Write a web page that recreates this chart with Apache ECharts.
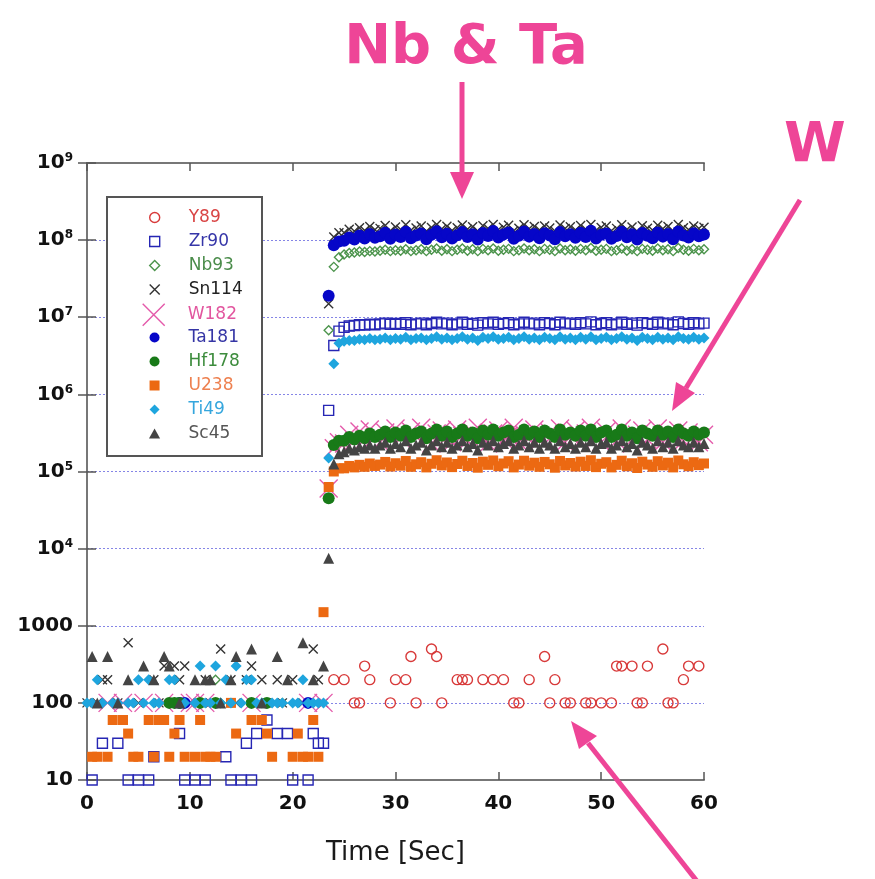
<!DOCTYPE html>
<html>
<head>
<meta charset="utf-8">
<script src="https://cdn.jsdelivr.net/npm/echarts@6/dist/echarts.min.js"></script>
<style>
  html, body { margin: 0; background: #fff; }
  #chart { width: 875px; height: 879px; }
</style>
</head>
<body>
<div id="chart"></div>
<script>
// sample times [s], one reading every 0.5 s
var times = [
  0, 0.5, 1, 1.5, 2, 2.5, 3, 3.5, 4, 4.5,
  5, 5.5, 6, 6.5, 7, 7.5, 8, 8.5, 9, 9.5,
  10, 10.5, 11, 11.5, 12, 12.5, 13, 13.5, 14, 14.5,
  15, 15.5, 16, 16.5, 17, 17.5, 18, 18.5, 19, 19.5,
  20, 20.5, 21, 21.5, 22, 22.5, 23, 23.5, 24, 24.5,
  25, 25.5, 26, 26.5, 27, 27.5, 28, 28.5, 29, 29.5,
  30, 30.5, 31, 31.5, 32, 32.5, 33, 33.5, 34, 34.5,
  35, 35.5, 36, 36.5, 37, 37.5, 38, 38.5, 39, 39.5,
  40, 40.5, 41, 41.5, 42, 42.5, 43, 43.5, 44, 44.5,
  45, 45.5, 46, 46.5, 47, 47.5, 48, 48.5, 49, 49.5,
  50, 50.5, 51, 51.5, 52, 52.5, 53, 53.5, 54, 54.5,
  55, 55.5, 56, 56.5, 57, 57.5, 58, 58.5, 59, 59.5,
  60
];

// counts per isotope (0 = nothing recorded, not plotted on the log axis)
var y89 = [
  0, 0, 0, 0, 0, 0, 0, 0, 0, 0,
  0, 0, 0, 0, 0, 0, 0, 0, 0, 0,
  0, 0, 0, 0, 0, 0, 0, 0, 0, 0,
  0, 0, 0, 0, 0, 0, 0, 0, 0, 0,
  0, 0, 0, 0, 0, 0, 0, 0, 200, 0,
  200, 0, 100, 100, 300, 200, 0, 0, 0, 100,
  200, 0, 200, 400, 100, 0, 0, 500, 400, 100,
  0, 0, 200, 200, 200, 0, 0, 200, 0, 200,
  0, 200, 0, 100, 100, 0, 200, 0, 0, 400,
  100, 200, 0, 100, 100, 0, 0, 100, 100, 0,
  100, 0, 100, 300, 300, 0, 300, 100, 100, 300,
  0, 0, 500, 100, 100, 0, 200, 300, 0, 300,
  0
];
var zr90 = [
  0, 10, 0, 30, 0, 0, 30, 0, 10, 0,
  10, 0, 10, 20, 0, 0, 0, 0, 40, 10,
  0, 10, 0, 10, 0, 0, 0, 20, 10, 0,
  10, 30, 10, 40, 0, 60, 0, 40, 0, 40,
  10, 0, 0, 10, 40, 30, 30, 6.2e5, 4.3e6, 6.6e6,
  7.4e6, 7.7e6, 7.8e6, 8.0e6, 7.9e6, 8.1e6, 8.0e6, 8.2e6, 8.4e6, 8.1e6,
  8.3e6, 8.1e6, 8.5e6, 8.0e6, 8.2e6, 8.4e6, 8.0e6, 8.3e6, 8.6e6, 8.2e6,
  8.4e6, 8.0e6, 8.2e6, 8.6e6, 8.1e6, 8.3e6, 7.9e6, 8.5e6, 8.2e6, 8.6e6,
  8.1e6, 8.3e6, 8.5e6, 8.0e6, 8.2e6, 8.6e6, 8.2e6, 8.4e6, 8.0e6, 8.5e6,
  8.3e6, 8.0e6, 8.6e6, 8.2e6, 8.4e6, 8.1e6, 8.5e6, 8.2e6, 8.7e6, 8.0e6,
  8.3e6, 8.5e6, 8.0e6, 8.2e6, 8.6e6, 8.1e6, 8.4e6, 7.9e6, 8.5e6, 8.3e6,
  8.1e6, 8.6e6, 8.2e6, 8.4e6, 8.0e6, 8.7e6, 8.3e6, 8.1e6, 8.5e6, 8.2e6,
  8.4e6
];
var nb93 = [
  0, 0, 0, 0, 0, 100, 0, 0, 0, 0,
  0, 0, 0, 0, 0, 0, 0, 100, 0, 0,
  0, 0, 0, 0, 0, 200, 100, 0, 0, 0,
  0, 0, 0, 0, 0, 0, 0, 0, 100, 0,
  0, 0, 0, 0, 0, 0, 0, 6.8e6, 4.5e7, 6.0e7,
  6.5e7, 6.8e7, 6.9e7, 7.1e7, 7.0e7, 7.2e7, 7.1e7, 7.3e7, 7.5e7, 7.2e7,
  7.4e7, 7.3e7, 7.6e7, 7.2e7, 7.4e7, 7.6e7, 7.2e7, 7.5e7, 7.8e7, 7.3e7,
  7.6e7, 7.2e7, 7.5e7, 7.8e7, 7.3e7, 7.6e7, 7.2e7, 7.7e7, 7.4e7, 7.8e7,
  7.3e7, 7.5e7, 7.7e7, 7.2e7, 7.4e7, 7.8e7, 7.4e7, 7.6e7, 7.2e7, 7.7e7,
  7.5e7, 7.2e7, 7.8e7, 7.4e7, 7.6e7, 7.3e7, 7.7e7, 7.4e7, 7.9e7, 7.3e7,
  7.5e7, 7.7e7, 7.2e7, 7.4e7, 7.8e7, 7.3e7, 7.6e7, 7.2e7, 7.7e7, 7.5e7,
  7.3e7, 7.8e7, 7.4e7, 7.6e7, 7.2e7, 7.9e7, 7.5e7, 7.3e7, 7.7e7, 7.4e7,
  7.6e7
];
var sn114 = [
  100, 0, 100, 200, 200, 0, 100, 0, 600, 0,
  100, 0, 0, 200, 100, 300, 0, 300, 200, 300,
  100, 0, 0, 200, 100, 0, 500, 0, 200, 100,
  0, 200, 300, 0, 200, 100, 0, 200, 100, 0,
  200, 0, 100, 0, 500, 200, 100, 1.5e7, 1.1e8, 1.25e8,
  1.25e8, 1.38e8, 1.30e8, 1.45e8, 1.33e8, 1.50e8, 1.36e8, 1.42e8, 1.55e8, 1.32e8,
  1.48e8, 1.37e8, 1.58e8, 1.34e8, 1.44e8, 1.52e8, 1.30e8, 1.46e8, 1.60e8, 1.39e8,
  1.51e8, 1.33e8, 1.45e8, 1.57e8, 1.38e8, 1.49e8, 1.31e8, 1.54e8, 1.41e8, 1.59e8,
  1.36e8, 1.47e8, 1.56e8, 1.32e8, 1.43e8, 1.58e8, 1.40e8, 1.50e8, 1.35e8, 1.53e8,
  1.44e8, 1.31e8, 1.57e8, 1.41e8, 1.49e8, 1.35e8, 1.55e8, 1.38e8, 1.60e8, 1.33e8,
  1.46e8, 1.52e8, 1.32e8, 1.42e8, 1.58e8, 1.37e8, 1.48e8, 1.30e8, 1.54e8, 1.43e8,
  1.34e8, 1.56e8, 1.40e8, 1.50e8, 1.31e8, 1.59e8, 1.45e8, 1.36e8, 1.53e8, 1.41e8,
  1.47e8
];
var w182 = [
  0, 0, 0, 0, 100, 0, 0, 100, 0, 0,
  0, 100, 0, 0, 0, 100, 0, 0, 0, 0,
  100, 100, 0, 100, 0, 0, 0, 0, 0, 0,
  0, 0, 100, 0, 0, 0, 0, 0, 0, 0,
  0, 0, 0, 100, 0, 0, 100, 6.0e4, 2.0e5, 2.4e5,
  2.3e5, 3.0e5, 2.5e5, 3.3e5, 2.6e5, 3.5e5, 2.8e5, 2.4e5, 3.2e5, 2.7e5,
  3.6e5, 2.7e5, 2.4e5, 3.3e5, 2.9e5, 3.7e5, 2.6e5, 2.3e5, 3.1e5, 3.4e5,
  2.8e5, 2.4e5, 3.5e5, 2.9e5, 2.5e5, 3.2e5, 3.7e5, 2.7e5, 2.3e5, 3.1e5,
  3.4e5, 2.6e5, 2.9e5, 3.7e5, 2.4e5, 3.0e5, 2.7e5, 3.5e5, 2.5e5, 2.3e5,
  3.2e5, 2.7e5, 3.6e5, 2.4e5, 2.9e5, 3.4e5, 2.5e5, 3.1e5, 3.7e5, 2.7e5,
  2.4e5, 3.3e5, 2.8e5, 2.5e5, 3.6e5, 2.7e5, 2.3e5, 3.0e5, 3.4e5, 2.6e5,
  2.9e5, 3.6e5, 2.4e5, 3.1e5, 2.6e5, 3.4e5, 2.5e5, 3.2e5, 2.8e5, 2.4e5,
  3.0e5
];
var ta181 = [
  0, 0, 0, 0, 0, 0, 0, 0, 0, 0,
  0, 0, 0, 0, 0, 0, 0, 0, 100, 100,
  0, 0, 0, 0, 0, 0, 0, 0, 0, 0,
  0, 0, 0, 0, 0, 0, 0, 0, 0, 0,
  0, 0, 0, 100, 0, 0, 0, 1.9e7, 8.6e7, 9.6e7,
  0.98e8, 1.08e8, 1.02e8, 1.15e8, 1.05e8, 1.20e8, 1.07e8, 1.12e8, 1.25e8, 1.04e8,
  1.18e8, 1.10e8, 1.28e8, 1.06e8, 1.15e8, 1.22e8, 1.03e8, 1.17e8, 1.30e8, 1.09e8,
  1.21e8, 1.05e8, 1.16e8, 1.27e8, 1.10e8, 1.19e8, 1.02e8, 1.24e8, 1.13e8, 1.31e8,
  1.08e8, 1.18e8, 1.26e8, 1.04e8, 1.14e8, 1.29e8, 1.11e8, 1.20e8, 1.06e8, 1.23e8,
  1.15e8, 1.03e8, 1.27e8, 1.12e8, 1.19e8, 1.07e8, 1.25e8, 1.10e8, 1.32e8, 1.05e8,
  1.17e8, 1.22e8, 1.04e8, 1.13e8, 1.28e8, 1.09e8, 1.19e8, 1.02e8, 1.24e8, 1.14e8,
  1.06e8, 1.26e8, 1.11e8, 1.20e8, 1.03e8, 1.29e8, 1.15e8, 1.08e8, 1.23e8, 1.12e8,
  1.18e8
];
var hf178 = [
  0, 0, 0, 0, 0, 0, 0, 0, 0, 0,
  0, 0, 0, 0, 0, 0, 100, 100, 100, 0,
  0, 0, 100, 0, 0, 100, 0, 0, 0, 0,
  0, 0, 100, 0, 0, 100, 0, 0, 0, 0,
  0, 0, 0, 0, 0, 0, 0, 4.5e4, 2.2e5, 2.5e5,
  2.5e5, 2.8e5, 2.6e5, 2.9e5, 2.7e5, 3.1e5, 2.8e5, 3.0e5, 3.3e5, 2.8e5,
  3.2e5, 2.9e5, 3.4e5, 2.8e5, 3.1e5, 3.3e5, 2.7e5, 3.1e5, 3.5e5, 2.9e5,
  3.3e5, 2.8e5, 3.1e5, 3.5e5, 2.9e5, 3.2e5, 2.7e5, 3.4e5, 3.0e5, 3.5e5,
  2.9e5, 3.2e5, 3.4e5, 2.8e5, 3.0e5, 3.5e5, 3.0e5, 3.3e5, 2.8e5, 3.4e5,
  3.1e5, 2.8e5, 3.5e5, 3.0e5, 3.2e5, 2.9e5, 3.4e5, 2.9e5, 3.5e5, 2.8e5,
  3.2e5, 3.4e5, 2.8e5, 3.0e5, 3.5e5, 2.9e5, 3.2e5, 2.7e5, 3.4e5, 3.1e5,
  2.9e5, 3.4e5, 3.0e5, 3.3e5, 2.8e5, 3.5e5, 3.1e5, 2.9e5, 3.3e5, 3.0e5,
  3.2e5
];
var u238 = [
  0, 20, 20, 0, 20, 60, 0, 60, 40, 20,
  20, 0, 60, 20, 60, 60, 20, 40, 60, 20,
  0, 20, 60, 20, 20, 20, 0, 0, 100, 40,
  0, 0, 60, 0, 60, 40, 20, 0, 0, 0,
  20, 40, 20, 20, 60, 20, 1500, 6.3e4, 1.0e5, 1.1e5,
  1.10e5, 1.18e5, 1.13e5, 1.22e5, 1.15e5, 1.27e5, 1.18e5, 1.23e5, 1.33e5, 1.16e5,
  1.28e5, 1.19e5, 1.37e5, 1.15e5, 1.24e5, 1.32e5, 1.13e5, 1.26e5, 1.40e5, 1.20e5,
  1.31e5, 1.14e5, 1.25e5, 1.38e5, 1.18e5, 1.29e5, 1.12e5, 1.34e5, 1.22e5, 1.39e5,
  1.17e5, 1.27e5, 1.36e5, 1.13e5, 1.23e5, 1.38e5, 1.19e5, 1.30e5, 1.15e5, 1.33e5,
  1.24e5, 1.12e5, 1.37e5, 1.20e5, 1.29e5, 1.16e5, 1.34e5, 1.18e5, 1.40e5, 1.14e5,
  1.26e5, 1.32e5, 1.13e5, 1.22e5, 1.38e5, 1.17e5, 1.28e5, 1.11e5, 1.34e5, 1.23e5,
  1.15e5, 1.36e5, 1.20e5, 1.30e5, 1.13e5, 1.39e5, 1.24e5, 1.17e5, 1.32e5, 1.21e5,
  1.27e5
];
var ti49 = [
  100, 100, 200, 100, 0, 100, 100, 0, 100, 100,
  200, 100, 200, 100, 100, 0, 200, 200, 0, 100,
  0, 100, 300, 100, 100, 300, 100, 200, 100, 300,
  100, 200, 200, 100, 100, 0, 100, 100, 100, 0,
  100, 100, 200, 100, 100, 100, 100, 1.5e5, 2.5e6, 4.6e6,
  4.9e6, 5.0e6, 5.0e6, 5.2e6, 5.1e6, 5.3e6, 5.1e6, 5.2e6, 5.4e6, 5.1e6,
  5.3e6, 5.2e6, 5.5e6, 5.1e6, 5.3e6, 5.4e6, 5.1e6, 5.3e6, 5.6e6, 5.2e6,
  5.4e6, 5.1e6, 5.3e6, 5.6e6, 5.2e6, 5.4e6, 5.0e6, 5.5e6, 5.3e6, 5.6e6,
  5.2e6, 5.3e6, 5.5e6, 5.1e6, 5.3e6, 5.6e6, 5.2e6, 5.4e6, 5.1e6, 5.5e6,
  5.3e6, 5.1e6, 5.6e6, 5.2e6, 5.4e6, 5.1e6, 5.5e6, 5.2e6, 5.6e6, 5.1e6,
  5.3e6, 5.5e6, 5.1e6, 5.3e6, 5.6e6, 5.2e6, 5.4e6, 5.0e6, 5.5e6, 5.3e6,
  5.1e6, 5.5e6, 5.2e6, 5.4e6, 5.1e6, 5.6e6, 5.3e6, 5.2e6, 5.5e6, 5.2e6,
  5.4e6
];
var sc45 = [
  0, 400, 100, 0, 400, 0, 100, 0, 200, 0,
  0, 300, 0, 200, 0, 400, 300, 0, 100, 0,
  0, 200, 0, 200, 200, 0, 100, 0, 200, 400,
  0, 0, 500, 0, 100, 0, 0, 400, 0, 200,
  0, 0, 600, 0, 200, 0, 300, 7500, 1.25e5, 1.7e5,
  1.8e5, 2.0e5, 1.9e5, 2.1e5, 2.0e5, 2.2e5, 2.0e5, 2.2e5, 2.4e5, 2.0e5,
  2.3e5, 2.1e5, 2.5e5, 2.0e5, 2.2e5, 2.4e5, 1.9e5, 2.2e5, 2.5e5, 2.1e5,
  2.4e5, 2.0e5, 2.2e5, 2.5e5, 2.1e5, 2.3e5, 1.9e5, 2.4e5, 2.2e5, 2.5e5,
  2.1e5, 2.3e5, 2.5e5, 2.0e5, 2.2e5, 2.5e5, 2.1e5, 2.4e5, 2.0e5, 2.4e5,
  2.2e5, 2.0e5, 2.5e5, 2.1e5, 2.3e5, 2.0e5, 2.4e5, 2.1e5, 2.5e5, 2.0e5,
  2.3e5, 2.4e5, 2.0e5, 2.2e5, 2.5e5, 2.1e5, 2.3e5, 1.9e5, 2.4e5, 2.2e5,
  2.0e5, 2.5e5, 2.1e5, 2.4e5, 2.0e5, 2.5e5, 2.2e5, 2.1e5, 2.4e5, 2.1e5,
  2.3e5
];

var xTicks = [0, 10, 20, 30, 40, 50, 60];

// marker shapes
var SQUARE = 'path://M0,0L10,0L10,10L0,10Z';
var DIAMOND = 'path://M5,0L10,5L5,10L0,5Z';
var TRIANGLE = 'path://M5,0L10,9L0,9Z';
var CROSS = 'path://M0,0L10,10M10,0L0,10';
var PINK = '#ee4597';
var FONT = 'DejaVu Sans';

// name, values, symbol, size, marker colour, text colour, hollow?
var isotopes = [
  ['Y89', y89, 'circle', 10, '#d83a3a', '#d94545', true],
  ['Zr90', zr90, SQUARE, 10, '#2626b4', '#3636a8', true],
  ['Nb93', nb93, DIAMOND, 9, '#4c944c', '#4a8c4a', true],
  ['Sn114', sn114, CROSS, 9, '#333333', '#222222', true],
  ['W182', w182, CROSS, 18, '#e45aaa', '#e2569f', true],
  ['Ta181', ta181, 'circle', 12, '#0606c8', '#3535a5', false],
  ['Hf178', hf178, 'circle', 12, '#187a18', '#3d8c3d', false],
  ['U238', u238, SQUARE, 10, '#ec6912', '#ee8150', false],
  ['Ti49', ti49, DIAMOND, 11, '#1ea5de', '#35a6dd', false],
  ['Sc45', sc45, TRIANGLE, 11, '#444444', '#555555', false]
];

function points(vals) {
  var out = [];
  for (var i = 0; i < times.length; i++) {
    if (vals[i] > 0) out.push([times[i], vals[i]]);
  }
  return out;
}

var series = isotopes.map(function (d) {
  var style = d[6]
    ? { color: 'rgba(255,255,255,0)', borderColor: d[4], borderWidth: 1.4, opacity: 1 }
    : { color: d[4], borderWidth: 0, opacity: 1 };
  return {
    name: d[0],
    type: 'scatter',
    data: points(d[1]),
    symbol: d[2],
    symbolSize: d[3],
    itemStyle: style,
    emphasis: { disabled: true },
    z: 2
  };
});

function legendItems(from, to) {
  return isotopes.slice(from, to).map(function (d) {
    return {
      name: d[0],
      textStyle: { color: d[5] },
      itemStyle: d[6] ? { borderWidth: 1.4, borderColor: d[4] } : { borderWidth: 0 }
    };
  });
}

// legend rows 24 px apart, first row centre about y=217
var legendBase = {
  orient: 'vertical',
  left: 144,
  itemWidth: 58,
  itemHeight: 10,
  itemGap: 7,
  selectedMode: false,
  textStyle: { fontFamily: FONT, fontSize: 17 }
};
var legends = [
  Object.assign({}, legendBase, { top: 204, data: legendItems(0, 4) }),
  Object.assign({}, legendBase, { top: 298, left: 137, itemHeight: 22, data: legendItems(4, 5) }),
  Object.assign({}, legendBase, { top: 324, data: legendItems(5, 10) })
];

function arrowHead(tip, base1, base2) {
  return { type: 'polygon', shape: { points: [tip, base1, base2] }, style: { fill: PINK }, z: 10 };
}
function arrowLine(x1, y1, x2, y2) {
  return { type: 'line', shape: { x1: x1, y1: y1, x2: x2, y2: y2 }, style: { stroke: PINK, lineWidth: 5 }, z: 10 };
}

var chart = echarts.init(document.getElementById('chart'), null, { renderer: 'canvas' });

var option = {
  animation: false,
  backgroundColor: '#ffffff',
  textStyle: { fontFamily: FONT },
  grid: { left: 87, right: 171, top: 163, bottom: 99 },
  legend: legends,
  xAxis: [
    {
      type: 'value', min: xTicks[0], max: xTicks[xTicks.length - 1], interval: 10,
      position: 'bottom',
      axisLine: { show: true, lineStyle: { color: '#777', width: 2 } },
      axisTick: { inside: true, length: 8, lineStyle: { color: '#555', width: 1.5 } },
      axisLabel: { margin: 14, color: '#111', fontFamily: FONT, fontWeight: 'bold', fontSize: 20 },
      splitLine: { show: false },
      name: 'Time [Sec]', nameLocation: 'middle', nameGap: 60,
      nameTextStyle: { fontFamily: FONT, fontSize: 26, color: '#1a1a1a' }
    },
    {
      type: 'value', min: 0, max: 60, interval: 10, position: 'top',
      axisLine: { show: true, lineStyle: { color: '#777', width: 2 } },
      axisTick: { inside: true, length: 8, lineStyle: { color: '#555', width: 1.5 } },
      axisLabel: { show: false },
      splitLine: { show: false }
    }
  ],
  yAxis: [
    {
      type: 'log', logBase: 10, min: 10, max: 1e9, interval: 1,
      position: 'left',
      axisLine: { show: true, lineStyle: { color: '#777', width: 2 } },
      axisTick: { inside: true, length: 9, lineStyle: { color: '#555', width: 1.5 } },
      axisLabel: {
        margin: 14, color: '#111',
        formatter: function (v) {
          var e = Math.round(Math.log10(v));
          return e >= 4 ? '{b|10}{s|' + e + '}' : '{b|' + Math.round(v) + '}';
        },
        rich: {
          b: { fontFamily: FONT, fontWeight: 'bold', fontSize: 20, color: '#111' },
          s: { fontFamily: FONT, fontWeight: 'bold', fontSize: 12, color: '#111', verticalAlign: 'top', padding: [0, 0, 10, 0] }
        }
      },
      splitLine: { show: true, lineStyle: { color: '#8585e6', width: 1, type: [2, 2] } }
    },
    {
      type: 'log', logBase: 10, min: 10, max: 1e9, interval: 1,
      position: 'right',
      axisLine: { show: true, lineStyle: { color: '#777', width: 2 } },
      axisTick: { inside: true, length: 9, lineStyle: { color: '#555', width: 1.5 } },
      axisLabel: { show: false },
      splitLine: { show: false }
    }
  ],
  graphic: [
    // legend frame
    { type: 'rect', shape: { x: 107, y: 197, width: 155, height: 259 },
      style: { fill: '#ffffff', stroke: '#555', lineWidth: 2 }, z: 3 },
    // annotations
    { type: 'text', x: 466, y: 48, z: 10,
      style: { text: 'Nb & Ta', fill: PINK, font: 'bold 56px "DejaVu Sans"', align: 'center', verticalAlign: 'middle', textAlign: 'center', textVerticalAlign: 'middle' } },
    arrowLine(462, 82, 462, 176),
    arrowHead([462, 199], [450, 172], [474, 172]),
    { type: 'text', x: 815, y: 146, z: 10,
      style: { text: 'W', fill: PINK, font: 'bold 56px "DejaVu Sans"', align: 'center', verticalAlign: 'middle', textAlign: 'center', textVerticalAlign: 'middle' } },
    arrowLine(800, 200, 686, 388),
    arrowHead([672, 411], [695, 393], [676, 382]),
    arrowLine(700, 885, 588, 743),
    arrowHead([571, 721], [597, 736], [579, 749])
  ],
  series: series
};

chart.setOption(option);
</script>
</body>
</html>
